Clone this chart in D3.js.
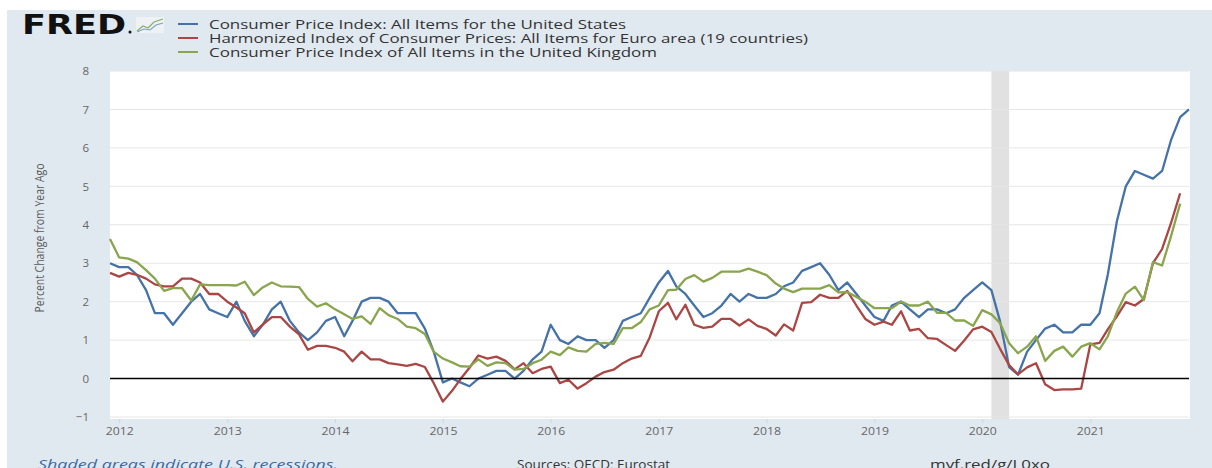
<!DOCTYPE html>
<html lang="en">
<head>
    <meta charset="UTF-8">
    <script type="text/javascript" src="https://cdn.jsdelivr.net/npm/d3@7"></script>
    <title>FRED CPI</title>
    <style>
        body { margin: 0; background: #fff; }
        svg { display: block; font-family: "Open Sans", sans-serif; }
    </style>
</head>
<body>
<script>
    // monthly, percent change from year ago, starting Dec 2011
    var firstMonth = new Date(2011, 11, 1);
    var usCpi = [3.0,
        2.9, 2.9, 2.7, 2.3, 1.7, 1.7, 1.4, 1.7, 2.0, 2.2, 1.8, 1.7,
        1.6, 2.0, 1.5, 1.1, 1.4, 1.8, 2.0, 1.5, 1.2, 1.0, 1.2, 1.5,
        1.6, 1.1, 1.5, 2.0, 2.1, 2.1, 2.0, 1.7, 1.7, 1.7, 1.3, 0.7,
        -0.1, 0.0, -0.1, -0.2, 0.0, 0.1, 0.2, 0.2, 0.0, 0.2, 0.5, 0.7,
        1.4, 1.0, 0.9, 1.1, 1.0, 1.0, 0.8, 1.0, 1.5, 1.6, 1.7, 2.1,
        2.5, 2.8, 2.4, 2.2, 1.9, 1.6, 1.7, 1.9, 2.2, 2.0, 2.2, 2.1,
        2.1, 2.2, 2.4, 2.5, 2.8, 2.9, 3.0, 2.7, 2.3, 2.5, 2.2, 1.9,
        1.6, 1.5, 1.9, 2.0, 1.8, 1.6, 1.8, 1.8, 1.7, 1.8, 2.1, 2.3,
        2.5, 2.3, 1.5, 0.3, 0.1, 0.7, 1.0, 1.3, 1.4, 1.2, 1.2, 1.4,
        1.4, 1.7, 2.7, 4.1, 5.0, 5.4, 5.3, 5.2, 5.4, 6.2, 6.8, 7.0];
    var euroHicp = [2.75,
        2.65, 2.75, 2.7, 2.6, 2.45, 2.4, 2.4, 2.6, 2.6, 2.5, 2.2, 2.2,
        2.0, 1.85, 1.7, 1.2, 1.4, 1.6, 1.6, 1.35, 1.15, 0.75, 0.85, 0.85,
        0.8, 0.7, 0.45, 0.7, 0.5, 0.5, 0.4, 0.37, 0.33, 0.38, 0.3, -0.12,
        -0.6, -0.32, -0.02, 0.28, 0.6, 0.52, 0.57, 0.46, 0.24, 0.4, 0.14, 0.25,
        0.31, -0.12, -0.03, -0.26, -0.12, 0.05, 0.17, 0.23, 0.4, 0.52, 0.59, 1.07,
        1.75, 1.97, 1.54, 1.92, 1.4, 1.32, 1.35, 1.55, 1.55, 1.38, 1.54, 1.37,
        1.29, 1.12, 1.41, 1.25, 1.97, 1.99, 2.18, 2.1, 2.1, 2.28, 1.9, 1.55,
        1.4, 1.48, 1.4, 1.75, 1.25, 1.29, 1.05, 1.03, 0.87, 0.72, 0.99, 1.28,
        1.35, 1.21, 0.78, 0.35, 0.11, 0.29, 0.4, -0.15, -0.3, -0.28, -0.28, -0.26,
        0.89, 0.93, 1.28, 1.62, 1.99, 1.9, 2.07, 3.0, 3.37, 4.04, 4.82];
    var ukCpi = [3.63,
        3.15, 3.12, 3.03, 2.82, 2.6, 2.28, 2.35, 2.35, 2.03, 2.45, 2.43, 2.43,
        2.43, 2.42, 2.52, 2.17, 2.37, 2.5, 2.4, 2.39, 2.38, 2.07, 1.87, 1.96,
        1.8, 1.67, 1.55, 1.62, 1.42, 1.83, 1.65, 1.55, 1.35, 1.31, 1.16, 0.7,
        0.52, 0.42, 0.32, 0.31, 0.5, 0.33, 0.42, 0.4, 0.23, 0.25, 0.4, 0.49,
        0.7, 0.61, 0.81, 0.72, 0.7, 0.9, 0.93, 0.9, 1.31, 1.31, 1.47, 1.8,
        1.9, 2.3, 2.31, 2.59, 2.69, 2.52, 2.62, 2.78, 2.78, 2.78, 2.86, 2.78,
        2.69, 2.47, 2.34, 2.25, 2.34, 2.34, 2.34, 2.43, 2.24, 2.25, 2.12, 2.0,
        1.83, 1.83, 1.83, 2.0, 1.9, 1.9, 2.0, 1.71, 1.71, 1.51, 1.51, 1.37,
        1.78, 1.67, 1.45, 0.92, 0.66, 0.83, 1.1, 0.46, 0.72, 0.83, 0.57, 0.83,
        0.92, 0.76, 1.1, 1.73, 2.21, 2.39, 2.04, 3.03, 2.94, 3.7, 4.55];

    var seriesNames = [
        "Consumer Price Index: All Items for the United States",
        "Harmonized Index of Consumer Prices: All Items for Euro area (19 countries)",
        "Consumer Price Index of All Items in the United Kingdom"
    ];
    var seriesColors = ["#4572a7", "#aa4643", "#89a54e"];
    var yTicks = [-1, 0, 1, 2, 3, 4, 5, 6, 7, 8];
    var xTickYears = [2012, 2013, 2014, 2015, 2016, 2017, 2018, 2019, 2020, 2021];
    var recession = [new Date(2020, 1, 1), new Date(2020, 3, 1)];

    var W = 1212, H = 468;
    var pLeft = 110, pRight = 1189, pTop = 71, pBottom = 417;

    var svg = d3.select("body").append("svg")
        .attr("width", W)
        .attr("height", H);

    svg.append("rect").attr("width", W).attr("height", H).attr("fill", "#fff");
    svg.append("rect")
        .attr("x", 7).attr("y", 10)
        .attr("width", W - 7).attr("height", H - 10)
        .attr("fill", "#e1e9f0");

    var x = d3.scaleTime()
        .domain([firstMonth, new Date(2021, 11, 1)])
        .range([pLeft, pRight]);
    var y = d3.scaleLinear()
        .domain([-1, 8])
        .range([pBottom, pTop]);

    // plot area
    svg.append("rect")
        .attr("x", pLeft).attr("y", pTop)
        .attr("width", pRight - pLeft + 1).attr("height", pBottom - pTop + 2)
        .attr("fill", "#fff");

    // recession shading
    svg.append("rect")
        .attr("x", x(recession[0]))
        .attr("y", pTop)
        .attr("width", x(recession[1]) - x(recession[0]))
        .attr("height", pBottom - pTop + 2)
        .attr("fill", "#e1e1e1");

    // grid
    svg.append("g").selectAll("line")
        .data(yTicks.filter(function(d){ return d !== 0; }))
        .enter().append("line")
        .attr("x1", pLeft).attr("x2", pRight)
        .attr("y1", function(d){ return y(d); })
        .attr("y2", function(d){ return y(d); })
        .attr("stroke", "#e6e6e6")
        .attr("stroke-width", 1);

    var yAxis = d3.axisLeft(y).tickValues(yTicks).tickSize(0).tickPadding(0);
    var gy = svg.append("g")
        .attr("transform", "translate(" + 89 + ",0)")
        .call(yAxis);
    gy.select(".domain").remove();
    gy.selectAll("text")
        .attr("font-family", "Open Sans, sans-serif")
        .attr("font-size", 11.5)
        .attr("fill", "#666");

    var xAxis = d3.axisBottom(x)
        .tickValues(xTickYears.map(function(d){ return new Date(d, 0, 1); }))
        .tickFormat(d3.timeFormat("%Y"))
        .tickSize(4)
        .tickPadding(4);
    var gx = svg.append("g")
        .attr("transform", "translate(0," + (pBottom + 2) + ")")
        .call(xAxis);
    gx.select(".domain").remove();
    gx.selectAll("line").attr("stroke", "#ccd6eb");
    gx.selectAll("text")
        .attr("font-family", "Open Sans, sans-serif")
        .attr("font-size", 11.5)
        .attr("fill", "#666")
        .attr("textLength", 28)
        .attr("lengthAdjust", "spacingAndGlyphs");

    // y axis title
    svg.append("text")
        .attr("transform", "translate(44," + 238 + ") rotate(-90)")
        .attr("text-anchor", "middle")
        .attr("font-family", "Open Sans, sans-serif")
        .attr("font-size", 12.5)
        .attr("fill", "#5a5a5a")
        .attr("textLength", 149)
        .attr("lengthAdjust", "spacingAndGlyphs")
        .text("Percent Change from Year Ago");

    // lines
    var line = d3.line()
        .x(function(d, i){ return x(d3.timeMonth.offset(firstMonth, i)); })
        .y(function(d){ return y(d); });

    var allSeries = [usCpi, euroHicp, ukCpi];
    svg.append("g").selectAll("path")
        .data(allSeries)
        .enter().append("path")
        .attr("d", line)
        .attr("fill", "none")
        .attr("stroke", function(d, i){ return seriesColors[i]; })
        .attr("stroke-width", 2.3)
        .attr("stroke-linejoin", "round");

    // zero line
    svg.append("line")
        .attr("x1", pLeft).attr("x2", pRight)
        .attr("y1", y(0)).attr("y2", y(0))
        .attr("stroke", "#000")
        .attr("stroke-width", 1.5);

    // FRED logo
    svg.append("text")
        .attr("x", 22).attr("y", 34)
        .attr("font-family", "DejaVu Sans, sans-serif")
        .attr("font-weight", "bold")
        .attr("font-size", 27)
        .attr("fill", "#111")
        .attr("textLength", 104)
        .attr("lengthAdjust", "spacingAndGlyphs")
        .text("FRED");
    svg.append("circle").attr("cx", 130).attr("cy", 32).attr("r", 1.5).attr("fill", "#111");
    var icon = svg.append("g").attr("transform", "translate(136,17)");
    icon.append("rect").attr("width", 28).attr("height", 16).attr("fill", "#eef2f5");
    icon.append("polyline")
        .attr("points", "1,14 7,9 12,11 18,5 27,2")
        .attr("fill", "none").attr("stroke", "#8ab06a").attr("stroke-width", 1.3);
    icon.append("polyline")
        .attr("points", "1,15 8,12 14,13 20,8 27,6")
        .attr("fill", "none").attr("stroke", "#7da0c4").attr("stroke-width", 1.1);

    // legend
    var legendWidths = [417, 599, 448];
    var legend = svg.append("g").selectAll("g")
        .data(seriesNames)
        .enter().append("g")
        .attr("transform", function(d, i){ return "translate(178," + (24 + i * 14) + ")"; });
    legend.append("line")
        .attr("x1", 0).attr("x2", 20)
        .attr("stroke", function(d, i){ return seriesColors[i]; })
        .attr("stroke-width", 2);
    legend.append("text")
        .attr("x", 31).attr("y", 4.5)
        .attr("font-family", "Open Sans, sans-serif")
        .attr("font-size", 12.5)
        .attr("fill", "#333")
        .attr("textLength", function(d, i){ return legendWidths[i]; })
        .attr("lengthAdjust", "spacingAndGlyphs")
        .text(function(d){ return d; });

    // footer
    svg.append("text")
        .attr("x", 38).attr("y", 469)
        .attr("font-size", 13.5)
        .attr("font-style", "italic")
        .attr("fill", "#3a6aa5")
        .attr("textLength", 300)
        .attr("lengthAdjust", "spacingAndGlyphs")
        .text("Shaded areas indicate U.S. recessions.");
    svg.append("text")
        .attr("x", 517).attr("y", 469)
        .attr("font-size", 13.5)
        .attr("fill", "#333")
        .attr("textLength", 153)
        .attr("lengthAdjust", "spacingAndGlyphs")
        .text("Sources: OECD; Eurostat");
    svg.append("text")
        .attr("x", 930).attr("y", 469)
        .attr("font-size", 13.5)
        .attr("fill", "#333")
        .attr("textLength", 120)
        .attr("lengthAdjust", "spacingAndGlyphs")
        .text("myf.red/g/L0xo");
</script>
</body>
</html>
